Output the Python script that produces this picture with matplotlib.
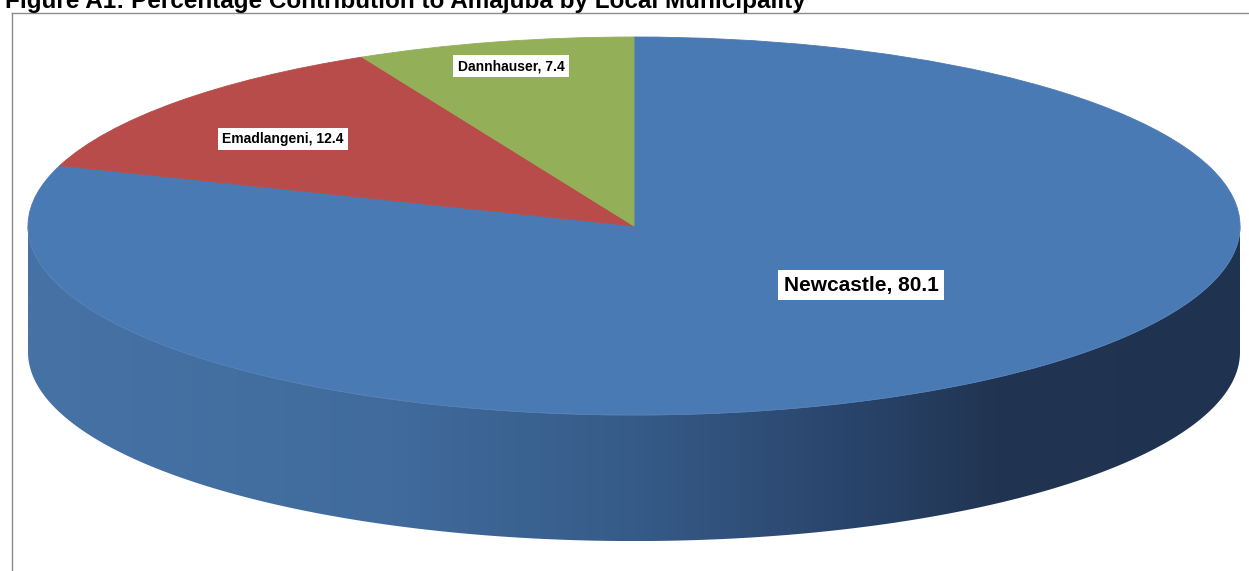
import numpy as np
import matplotlib.pyplot as plt
from matplotlib.colors import LinearSegmentedColormap
from matplotlib.patches import Polygon
from matplotlib.lines import Line2D

municipalities = ['Newcastle', 'Emadlangeni', 'Dannhauser']
shares = [80.1, 12.4, 7.4]
colours = ['#4a7ab4', '#b84c4a', '#93b058']

title = 'Figure A1: Percentage Contribution to Amajuba by Local Municipality'
narrow = ['Liberation Sans Narrow', 'Liberation Sans', 'DejaVu Sans']

W, H = 1249, 571
cx, cy = 634, 226          # pie centre in pixels
rx, ry = 606, 189          # ellipse semi-axes in pixels
depth = 0.667              # wall height in units of ry

fig = plt.figure(figsize=(W / 100, H / 100), dpi=100)
ax = fig.add_axes([0, 0, 1, 1])

wedges, _ = ax.pie(shares, colors=colours, startangle=90, counterclock=False,
                   radius=1, frame=True, wedgeprops=dict(linewidth=0.6, zorder=3))
for w, c in zip(wedges, colours):
    w.set_edgecolor(c)

# squash the circle into the tilted ellipse
ax.set_aspect('auto')
ax.set_xlim(-cx / rx, (W - cx) / rx)
ax.set_ylim((cy - H) / ry, cy / ry)
ax.axis('off')

# front wall of the disc with a left-to-right shading
t = np.linspace(np.pi, 2 * np.pi, 300)
top = np.column_stack([np.cos(t), np.sin(t)])
bot = np.column_stack([np.cos(t[::-1]), np.sin(t[::-1]) - depth])
wall = Polygon(np.vstack([top, bot]), closed=True, facecolor='none', edgecolor='none')
ax.add_patch(wall)
shade = LinearSegmentedColormap.from_list('wall', [
    (0.0, '#4672a6'), (0.3, '#406b9c'), (0.5, '#365b88'),
    (0.68, '#29446b'), (0.8, '#213552'), (1.0, '#1f3350')])
im = ax.imshow(np.linspace(0, 1, 512)[None, :], cmap=shade,
               extent=[-1, 1, -1 - depth, 0], aspect='auto', zorder=1)
im.set_clip_path(wall)
ax.plot(np.cos(t), np.sin(t), color='#5680b4', lw=0.6, zorder=4)


def px(x, y):
    return (x - cx) / rx, (cy - y) / ry


label_pos = [(861, 285), (283, 139), (511, 66)]
label_size = [15, 10, 10]
for name, val, (x, y), fs in zip(municipalities, shares, label_pos, label_size):
    ax.text(*px(x, y), f'{name}, {val}', fontsize=fs, fontweight='bold',
            family=narrow, ha='center', va='center', zorder=5,
            bbox=dict(facecolor='white', edgecolor='none', pad=3 if fs < 12 else 4))

# chart frame
fig.add_artist(Line2D([12 / W, 1], [1 - 13 / H, 1 - 13 / H], color='#8c8c8c', lw=1))
fig.add_artist(Line2D([12 / W, 12 / W], [0, 1 - 13 / H], color='#8c8c8c', lw=1))

fig.text(5 / W, 1 - 8 / H, title, fontsize=17.5, fontweight='bold',
         family=narrow, va='baseline', ha='left')

fig.savefig('out.png', dpi=100)
